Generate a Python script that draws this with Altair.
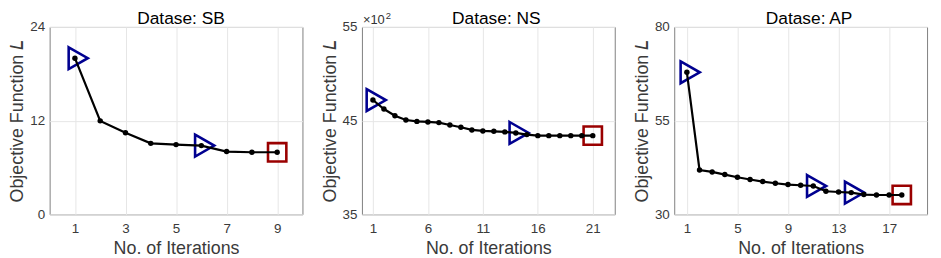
import altair as alt
import pandas as pd

FONT = "Liberation Sans"
BLUE = "#000090"
RED = "#9a0000"
TRI_PATH = "M -0.573 -1 L 1.18 0 L -0.573 1 Z"

# ---- data ----
sb_iter = list(range(1, 10))
sb_vals = [20.0, 11.97, 10.45, 9.09, 8.93, 8.8, 8.04, 7.95, 7.95]
sb_tri = [1, 6]

ns_iter = list(range(1, 22))
ns_vals = [47.2, 46.24, 45.53, 45.07, 44.92, 44.86, 44.79, 44.54, 44.29, 44.01,
           43.90, 43.86, 43.80, 43.69, 43.51, 43.40, 43.40, 43.40, 43.40, 43.40, 43.40]
ns_tri = [1, 14]

ap_iter = list(range(1, 19))
ap_vals = [67.9, 41.84, 41.31, 40.61, 39.89, 39.28, 38.74, 38.29, 37.94, 37.75,
           37.57, 36.15, 35.96, 35.80, 35.27, 35.16, 35.16, 35.16]
ap_tri = [1, 11, 14]

titles = ["Datase: SB", "Datase: NS", "Datase: AP"]
x_title = "No. of Iterations"
y_title = "Objective Function \U0001D613"
exp_main = ["\u00d710"]
exp_sup = ["2"]

W, H = 255, 189


def panel(iters, vals, tri, xdom, xticks, ydom, yticks, title, dx, exponent=False):
    df = pd.DataFrame({"iter": iters, "val": vals})
    x = alt.X("iter:Q", scale=alt.Scale(domain=xdom, nice=False, zero=False),
              axis=alt.Axis(values=xticks, title=x_title))
    y = alt.Y("val:Q", scale=alt.Scale(domain=ydom, nice=False, zero=False),
              axis=alt.Axis(values=yticks, title=y_title))
    base = alt.Chart(df).encode(x=x, y=y)
    tri_layer = base.transform_filter(
        alt.FieldOneOfPredicate(field="iter", oneOf=tri)
    ).mark_point(shape=TRI_PATH, size=484, color=BLUE, strokeWidth=2.6,
                 filled=False, opacity=1, strokeJoin="miter")
    sq_layer = base.transform_filter(
        alt.datum.iter == iters[-1]
    ).mark_point(shape="square", size=342, color=RED, strokeWidth=2.6,
                 filled=False, opacity=1, strokeJoin="miter")
    line = base.mark_line(color="black", strokeWidth=2.2)
    dots = base.mark_circle(color="black", size=30, opacity=1)
    ttl = alt.Chart(pd.DataFrame({"t": [title]})).mark_text(
        align="center", baseline="alphabetic", fontSize=17.5, font=FONT, color="black"
    ).encode(x=alt.value(W / 2 + dx), y=alt.value(-3), text="t:N")
    layers = [tri_layer, sq_layer, line, dots, ttl]
    if exponent:
        t1 = alt.Chart(pd.DataFrame({"t": exp_main})).mark_text(
            align="left", baseline="alphabetic", fontSize=13, font=FONT, color="#333333"
        ).encode(x=alt.value(1), y=alt.value(-2.5), text="t:N")
        t2 = alt.Chart(pd.DataFrame({"t": exp_sup})).mark_text(
            align="left", baseline="alphabetic", fontSize=9.5, font=FONT, color="#333333"
        ).encode(x=alt.value(24), y=alt.value(-8.5), text="t:N")
        layers += [t1, t2]
    return alt.layer(*layers).properties(width=W, height=H)


p1 = panel(sb_iter, sb_vals, sb_tri, [0, 10], [1, 3, 5, 7, 9], [0, 24], [0, 12, 24], titles[0], 5)
p2 = panel(ns_iter, ns_vals, ns_tri, [0, 23], [1, 6, 11, 16, 21], [35, 55], [35, 45, 55], titles[1], 8, exponent=True)
p3 = panel(ap_iter, ap_vals, ap_tri, [0, 20], [1, 5, 9, 13, 17], [30, 80], [30, 55, 80], titles[2], 8.5)

chart = alt.hconcat(p1, p2, p3, spacing=60, bounds="flush").properties(
    padding={"left": 0, "top": 0, "right": 5, "bottom": 5}
).configure_axis(
    labelFont=FONT, labelFontSize=13.5, labelColor="#3a3a3a",
    titleFont=FONT, titleFontSize=18, titleColor="#3a3a3a", titleFontWeight="normal",
    gridColor="#e6e6e6", gridWidth=1, domain=False, ticks=False, tickSize=0,
    labelFlush=False, labelOverlap=False,
).configure_axisX(
    labelPadding=7, titleY=40, titleBaseline="alphabetic"
).configure_axisY(
    labelPadding=5, titleX=-27, titleBaseline="alphabetic"
).configure_view(
    stroke="#808080", strokeWidth=1
)

chart.save("out.html", embed_options={"renderer": "svg", "actions": False})
